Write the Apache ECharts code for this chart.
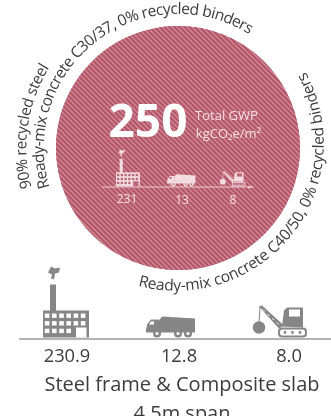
<!DOCTYPE html>
<html>
<head>
<meta charset="utf-8">
<style>html,body{margin:0;padding:0;background:#fff}#c{width:331px;height:416px}</style>
<script src="https://cdn.jsdelivr.net/npm/echarts@6/dist/echarts.min.js"></script>
</head>
<body>
<div id="c"></div>
<script>
// GWP contributions per stage, kgCO2e/m2
const stages = ['Production', 'Transport', 'Construction'];
const stageValues = [230.9, 12.8, 8.0];
const stageValueLabels = ['230.9', '12.8', '8.0'];
const stageRoundedLabels = ['231', '13', '8'];
const totalLabel = '250';
const totalCaption = ['Total GWP', 'kgCO\u2082e/m\u00b2'];
const systemTitle = ['Steel frame & Composite slab', '4.5m span'];
const ringTexts = [
  'Ready-mix concrete C30/37, 0% recycled binders',
  '90% recycled steel',
  'Ready-mix concrete C40/50, 0% recycled binders'
];

const FONT = '"Open Sans", "Noto Sans", sans-serif';
const CX = 178, CY = 148, RADIUS = 122;
const chart = echarts.init(document.getElementById('c'), null, {renderer: 'canvas'});
const measure = document.createElement('canvas').getContext('2d');

// Diagonal hatch tile: soft dark and light bands running top-left to bottom-right.
function hatchTile() {
  const size = 5;
  const tile = document.createElement('canvas');
  tile.width = tile.height = size;
  const ctx = tile.getContext('2d');
  const dark = [172, 80, 98], light = [208, 132, 146];
  for (let y = 0; y < size; y++) {
    for (let x = 0; x < size; x++) {
      const t = 0.5 + 0.5 * Math.cos(2 * Math.PI * (x - y) / size);
      const c = dark.map((d, i) => Math.round(d + (light[i] - d) * t));
      ctx.fillStyle = 'rgb(' + c.join(',') + ')';
      ctx.fillRect(x, y, 1, 1);
    }
  }
  return tile;
}

// Places one string along an arc, one glyph at a time. Angles are clockwise from 12 o'clock.
function arcText(text, cx, cy, r, startDeg, endDeg, size, color) {
  measure.font = size + 'px "Open Sans"';
  const chars = Array.from(text);
  const widths = chars.map(ch => measure.measureText(ch).width);
  const total = widths.reduce((a, b) => a + b, 0);
  const clockwise = endDeg > startDeg;
  const span = Math.abs(endDeg - startDeg) * Math.PI / 180;
  const k = span * r / total;
  const out = [];
  let run = 0;
  const start = startDeg * Math.PI / 180;
  const mid = clockwise ? r + size * 0.3 : r - size * 0.3;
  chars.forEach((ch, i) => {
    const along = (run + widths[i] / 2) * k / r;
    run += widths[i];
    const a = clockwise ? start + along : start - along;
    out.push({
      type: 'text', silent: true,
      x: cx + mid * Math.sin(a),
      y: cy - mid * Math.cos(a),
      rotation: clockwise ? -a : Math.PI - a,
      style: {text: ch, font: size + 'px ' + FONT, fill: color, align: 'center', verticalAlign: 'middle'}
    });
  });
  return out;
}

const label = (text, x, y, size, fill, weight) => ({
  type: 'text', silent: true, x, y,
  style: {text, font: (weight ? weight + ' ' : '') + size + 'px ' + FONT, fill, align: 'center', verticalAlign: 'middle'}
});
const rect = (x, y, width, height, fill, r) => ({type: 'rect', silent: true, shape: {x, y, width, height, r: r || 0}, style: {fill}});
const poly = (points, fill) => ({type: 'polygon', silent: true, shape: {points}, style: {fill}});
const disc = (cx, cy, r, fill) => ({type: 'circle', silent: true, shape: {cx, cy, r}, style: {fill}});
const stroke = (x1, y1, x2, y2, color, w) => ({type: 'line', silent: true, shape: {x1, y1, x2, y2}, style: {stroke: color, lineWidth: w}});

// Pictograms share a local frame whose origin sits at the left end of the ground line.
function factory(fg, bg) {
  const parts = [
    poly([[5, -65], [8, -71], [12, -69], [17, -70], [16, -65], [12, -64], [11, -58], [8, -59], [9, -63]], fg),
    rect(7, -53, 6, 28, fg),
    rect(0, -27, 46, 27, fg),
    rect(33, -10, 10.5, 10, bg)
  ];
  for (let row = 0; row < 3; row++) {
    for (let col = 0; col < (row === 2 ? 4 : 6); col++) {
      parts.push(rect(1.8 + col * 7.2, -24 + row * 7.6, 4.6, 4.4, bg));
    }
  }
  return parts;
}
function truck(fg, bg) {
  return [
    poly([[0, -6], [1, -13], [5, -18], [13, -18], [13, -6]], fg),
    poly([[5, -16], [3, -13], [8, -13], [8, -16]], bg),
    poly([[13, -17], [16, -21], [49, -19], [49, -8], [13, -8]], fg),
    rect(0, -9, 49, 4, fg),
    disc(11, -4, 4, fg), disc(11, -4, 1.6, bg),
    disc(32, -4, 4, fg), disc(32, -4, 1.6, bg),
    disc(42, -4, 4, fg), disc(42, -4, 1.6, bg)
  ];
}
function crane(fg, bg) {
  const parts = [
    stroke(7, -31, 6, -14, fg, 1),
    disc(6, -10, 6.2, fg),
    poly([[6, -31], [9, -32], [31, -12], [26, -9]], fg),
    poly([[29, -11], [31, -27], [34, -30], [50, -30], [50, -10]], fg),
    rect(36, -28, 11, 7, bg),
    rect(25, -10, 29, 10, fg, 4),
    rect(27, -8, 25, 6, bg, 2.5),
    disc(32, -5, 1.4, fg), disc(39.5, -5, 1.4, fg), disc(47, -5, 1.4, fg)
  ];
  for (let i = 0; i < 4; i++) {
    parts.push(stroke(10 + i * 4.6, -28 + i * 4.3, 12 + i * 4.6, -26 + i * 4.3, bg, 1));
  }
  return parts;
}
const place = (children, x, y, s) => ({type: 'group', silent: true, x, y, scaleX: s, scaleY: s, children});

const GREY = '#868686', TEXT = '#3c3c3c', SOFT = '#f4dde2', PINK = '#bd6a7d';

const elements = [
  ...arcText(ringTexts[0], CX, CY, 134, -106.8, 32, 15.6, TEXT),
  ...arcText(ringTexts[1], CX, CY, 151.5, -105, -58, 15.4, TEXT),
  ...arcText(ringTexts[2], 176, 143, 148, 194.9, 61.2, 15.6, TEXT),

  label(totalLabel, 148, 124, 46, '#ffffff', 'bold'),
  label(totalCaption[0], 226.5, 116, 13, SOFT),
  label(totalCaption[1], 228.5, 134, 13, SOFT),

  // inner ground line with miniature pictograms
  stroke(102, 187, 253, 187, '#edc9d0', 1),
  poly([[248, 186], [255, 187], [248, 188.4]], '#edc9d0'),
  place(factory('#f3dde1', PINK), 116, 186.4, 0.52),
  place(truck('#f3dde1', PINK), 167, 186.4, 0.58),
  place(crane('#f3dde1', PINK), 220, 186.4, 0.47),
  label(stageRoundedLabels[0], 127, 200, 12, SOFT),
  label(stageRoundedLabels[1], 182, 201, 12, SOFT),
  label(stageRoundedLabels[2], 233, 201, 12, SOFT),

  // lower ground line with full-size pictograms
  stroke(19, 339, 331, 339, '#9a9a9a', 1.6),
  place(factory(GREY, '#ffffff'), 43, 337.5, 1),
  place(truck(GREY, '#ffffff'), 146, 337.5, 1),
  place(crane(GREY, '#ffffff'), 253, 337.5, 1),
  label(stageValueLabels[0], 67, 357, 18.3, TEXT),
  label(stageValueLabels[1], 179, 357, 18.3, TEXT),
  label(stageValueLabels[2], 289, 357, 18.3, TEXT),
  label(systemTitle[0], 182, 385, 20, TEXT),
  label(systemTitle[1], 182, 414, 20, TEXT)
];

// Two stacked pies with offset start angles so that sector joins never show through.
const pieLayer = (startAngle, z) => ({
  type: 'pie',
  silent: true,
  z,
  startAngle,
  center: [CX, CY],
  radius: [0, RADIUS],
  label: {show: false},
  labelLine: {show: false},
  itemStyle: {color: {image: hatchTile(), repeat: 'repeat'}, borderWidth: 0},
  data: stages.map((name, i) => ({name, value: stageValues[i]}))
});

chart.setOption({
  animation: false,
  backgroundColor: '#ffffff',
  series: [pieLayer(215, -2), pieLayer(90, -1)],
  graphic: {elements}
});
</script>
</body>
</html>
